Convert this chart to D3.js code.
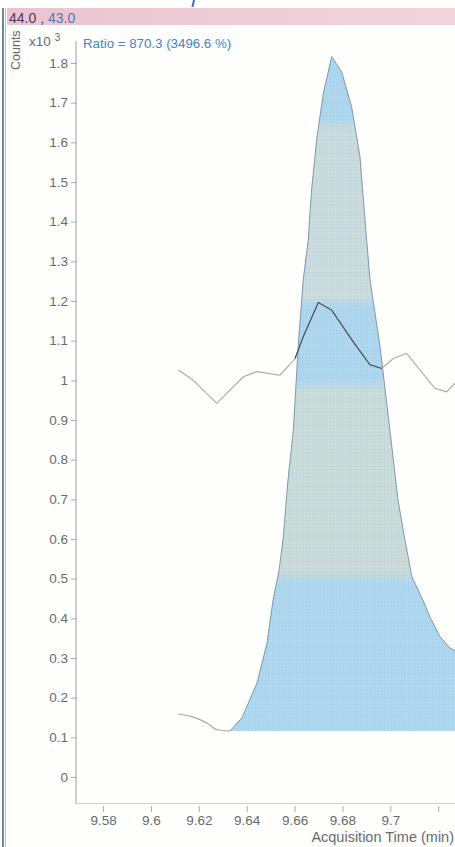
<!DOCTYPE html>
<html><head><meta charset="utf-8">
<script src="https://cdn.jsdelivr.net/npm/d3@7"></script>
<style>
html,body{margin:0;padding:0;background:#fefefd;}
svg{display:block;font-family:"Liberation Sans",Arial,sans-serif;}
</style></head>
<body>
<svg id="c" width="455" height="847"></svg>
<script>
// ---- data ----
const yTicks = [0,0.1,0.2,0.3,0.4,0.5,0.6,0.7,0.8,0.9,1,1.1,1.2,1.3,1.4,1.5,1.6,1.7,1.8];
const xTicks = [9.58,9.6,9.62,9.64,9.66,9.68,9.7,9.72];
const xTickLabels = ["9.58","9.6","9.62","9.64","9.66","9.68","9.7",""];
// quantifier 44.0 trace before integration start (line only)
const leadTime  = [9.6114,9.6177,9.6234,9.6276,9.6330];
const leadValue = [0.159,0.151,0.136,0.119,0.116];
// quantifier 44.0 integrated peak (filled)
const peakTime  = [9.6330,9.6380,9.6443,9.6485,9.6510,9.6535,9.6552,9.6572,9.6595,9.6615,9.6636,9.6657,9.6671,9.6692,9.6720,9.6755,9.6797,9.6838,9.6873,9.6901,9.6915,9.6957,9.6998,9.7032,9.7061,9.7090,9.7136,9.7165,9.7207,9.7249,9.7270,9.7320];
const peakValue = [0.116,0.149,0.237,0.338,0.446,0.520,0.600,0.746,0.875,1.085,1.253,1.354,1.480,1.606,1.723,1.816,1.777,1.690,1.564,1.354,1.253,1.085,0.875,0.698,0.597,0.505,0.446,0.404,0.354,0.325,0.318,0.300];
const baselineValue = 0.116;
// qualifier 43.0 trace (scaled)
const qualTime  = [9.6114,9.6177,9.6275,9.6386,9.6442,9.6539,9.6602,9.6636,9.6699,9.6755,9.6845,9.6915,9.6964,9.7012,9.7068,9.7124,9.7186,9.7235,9.7270,9.7300];
const qualValue = [1.026,1.000,0.942,1.009,1.022,1.013,1.055,1.110,1.196,1.177,1.097,1.039,1.030,1.055,1.068,1.026,0.980,0.971,0.993,1.000];
const qualDarkRange = [9.6615, 9.6964];

// ---- scales ----
const svg = d3.select("#c");
const x = d3.scaleLinear().domain([9.5687, 9.7270]).range([76, 455]);
const y = d3.scaleLinear().domain([0, 1.8]).range([777, 63]);
const FONT = "Liberation Sans, Arial, sans-serif";

const defs = svg.append("defs");
defs.append("clipPath").attr("id","plot").append("rect")
  .attr("x",76).attr("y",40).attr("width",379).attr("height",763);

// banded fill (scan tone) + fine grid texture
const grad = defs.append("linearGradient").attr("id","band")
  .attr("gradientUnits","userSpaceOnUse").attr("x1",0).attr("x2",0).attr("y1",50).attr("y2",735);
const bands = [[0,"#b0daf2"],[0.10,"#b2dbf1"],[0.115,"#d0dfdf"],[0.36,"#d1e0de"],[0.375,"#b2daf1"],[0.48,"#b2daf1"],[0.50,"#d1e0dc"],[0.76,"#d0dfdc"],[0.78,"#b2dbf2"],[1,"#b2dcf3"]];
bands.forEach(b=>grad.append("stop").attr("offset",b[0]).attr("stop-color",b[1]));
const pat = defs.append("pattern").attr("id","grid").attr("patternUnits","userSpaceOnUse")
  .attr("width",3.4).attr("height",3.4);
pat.append("path").attr("d","M0,0.5H3.4M0.5,0V3.4").attr("stroke","#6a9cbc").attr("stroke-opacity",0.15).attr("stroke-width",1);

// ---- frame & header ----
svg.append("rect").attr("x",0).attr("y",0).attr("width",455).attr("height",847).attr("fill","#fefefd");
// fragment of a cut-off title stroke above the header
svg.append("line").attr("x1",194).attr("y1",0).attr("x2",192.5).attr("y2",7).attr("stroke","#3d6fb8").attr("stroke-width",2);
const hg = defs.append("linearGradient").attr("id","hdr").attr("x1",0).attr("x2",1);
hg.append("stop").attr("offset",0).attr("stop-color","#eac3d0");
hg.append("stop").attr("offset",0.5).attr("stop-color","#efcdd7");
hg.append("stop").attr("offset",1).attr("stop-color","#f2d3dc");
svg.append("rect").attr("x",7).attr("y",8).attr("width",448).attr("height",17).attr("fill","url(#hdr)");
svg.append("line").attr("x1",3).attr("x2",3).attr("y1",8).attr("y2",847).attr("stroke","#6a86a8").attr("stroke-width",2);
svg.append("line").attr("x1",5.5).attr("x2",5.5).attr("y1",8).attr("y2",847).attr("stroke","#b8c4d0").attr("stroke-width",1);
const ht = svg.append("text").attr("x",9).attr("y",22.5).attr("font-size",14);
ht.append("tspan").attr("fill","#5b3550").text("44.0 , ");
ht.append("tspan").attr("fill","#4a78b8").text("43.0");

// ---- axes ----
const yAxis = d3.axisLeft(y).tickValues(yTicks).tickSize(5).tickPadding(3)
  .tickFormat(d=>d3.format("~g")(d));
const gy = svg.append("g").attr("transform","translate(76,0)").call(yAxis);
gy.select(".domain").remove();
gy.selectAll(".tick line").attr("stroke","#aaa");
gy.selectAll(".tick text").attr("fill","#6a6a6a").attr("font-size",13.5).attr("font-family",FONT);
svg.append("line").attr("x1",76).attr("x2",76).attr("y1",41).attr("y2",803).attr("stroke","#9a9a9a");

const xAxis = d3.axisBottom(x).tickValues(xTicks).tickSize(8).tickPadding(3)
  .tickFormat((d,i)=>xTickLabels[i]);
const gx = svg.append("g").attr("transform","translate(0,804)").call(xAxis);
gx.select(".domain").remove();
gx.selectAll(".tick line").attr("stroke","#aaa").attr("y1",2);
gx.selectAll(".tick text").attr("fill","#6a6a6a").attr("font-size",13.5).attr("font-family",FONT);
svg.append("line").attr("x1",75).attr("x2",455).attr("y1",803.5).attr("y2",803.5).attr("stroke","#cfcfcf");

svg.append("text").attr("x",454).attr("y",842).attr("text-anchor","end").attr("font-size",14.5)
  .attr("fill","#6a6a6a").text("Acquisition Time (min)");
svg.append("text").attr("transform","translate(20,70) rotate(-90)").attr("font-size",12.5)
  .attr("fill","#6a6a6a").text("Counts");
const xt = svg.append("text").attr("x",29).attr("y",46).attr("font-size",13.5).attr("fill","#6a6a6a");
xt.append("tspan").text("x10");
xt.append("tspan").attr("dx",4).attr("dy",-5).attr("font-size",10).text("3");
svg.append("text").attr("x",83).attr("y",48).attr("font-size",13.3).attr("fill","#3f86c4")
  .text("Ratio = 870.3 (3496.6 %)");

// ---- marks ----
const plot = svg.append("g").attr("clip-path","url(#plot)");
const peak = peakTime.map((t,i)=>[t,peakValue[i]]);
const area = d3.area().x(d=>x(d[0])).y0(y(baselineValue)).y1(d=>y(d[1]));
plot.append("path").datum(peak).attr("d",area).attr("fill","url(#band)");
plot.append("path").datum(peak).attr("d",area).attr("fill","url(#grid)");
const ln = d3.line().x(d=>x(d[0])).y(d=>y(d[1]));
plot.append("path").datum(peak).attr("d",ln).attr("fill","none").attr("stroke","#8197aa").attr("stroke-width",1);
plot.append("path").datum(leadTime.map((t,i)=>[t,leadValue[i]])).attr("d",d3.line().x(d=>x(d[0])).y(d=>y(d[1])).curve(d3.curveMonotoneX))
  .attr("fill","none").attr("stroke","#aaa39c").attr("stroke-width",1.1);

const qual = qualTime.map((t,i)=>[t,qualValue[i]]);
plot.append("path").datum(qual).attr("d",ln).attr("fill","none").attr("stroke","#aca49c").attr("stroke-width",1.1);
// dark part inside integration region
const darkIdx = qual.map((d,i)=>i).filter(i=>qualTime[i]>=qualDarkRange[0]-0.002 && qualTime[i]<=qualDarkRange[1]);
plot.append("path").datum(darkIdx.map(i=>qual[i])).attr("d",ln).attr("fill","none")
  .attr("stroke","#3e4f62").attr("stroke-width",1.1);
</script>
</body></html>
